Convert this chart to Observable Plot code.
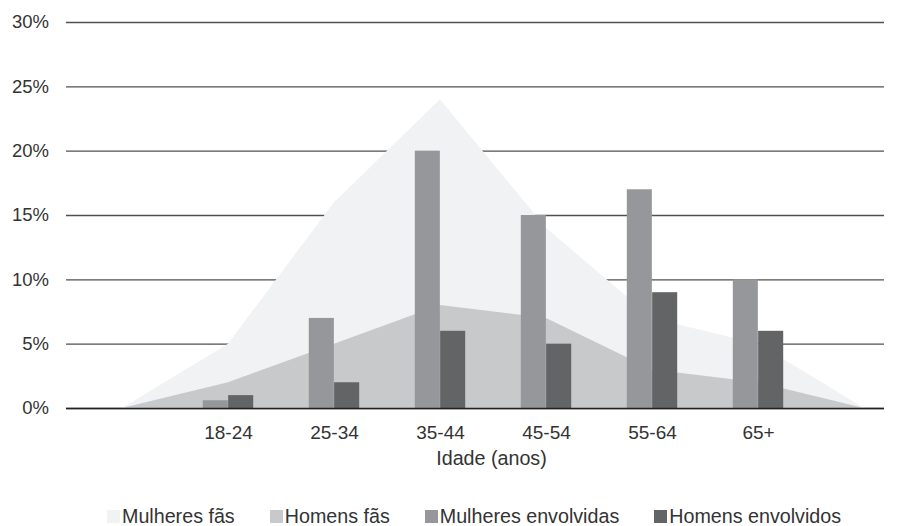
<!DOCTYPE html>
<html>
<head>
<meta charset="utf-8">
<script src="https://cdn.jsdelivr.net/npm/d3@7"></script>
<script src="https://cdn.jsdelivr.net/npm/@observablehq/plot@0.6"></script>
<style>
  html, body { margin: 0; padding: 0; background: #fff; }
  body { width: 907px; height: 526px; overflow: hidden; font-family: "Liberation Sans", Arial, sans-serif; }
  #legend { display: flex; margin-left: 107px; gap: 35px; height: 18px; align-items: center; padding-top: 15px; font-size: 19.7px; line-height: 18px; color: #333; }
  #legend .item { display: flex; align-items: center; }
  #legend .sw { width: 13px; height: 13px; margin-right: 2px; }
</style>
</head>
<body>
<div id="chart"></div>
<div id="legend"></div>
<script>
// Categories
const ages = ["18-24", "25-34", "35-44", "45-54", "55-64", "65+"];
// Area series use two empty slots around the age groups
const slots = ["", ...ages, " "];
// Series values (%)
const mulheresFas = [0, 5, 16, 24, 14, 7, 5, 0];
const homensFas = [0, 2, 5, 8, 7, 3, 2, 0];
const mulheresEnvolvidas = [0.6, 7, 20, 15, 17, 10];
const homensEnvolvidos = [1, 2, 6, 5, 9, 6];
// Tick values (%)
const yTicks = [0, 5, 10, 15, 20, 25, 30];
// Legend
const seriesNames = ["Mulheres fãs", "Homens fãs", "Mulheres envolvidas", "Homens envolvidos"];
const seriesColors = ["#f1f2f3", "#c8c9cb", "#96979a", "#636466"];

const chart = Plot.plot({
  width: 907,
  height: 492,
  marginLeft: 66,
  marginRight: 23,
  marginTop: 22,
  marginBottom: 84,
  style: { fontFamily: "Liberation Sans, Arial, sans-serif", fontSize: "19px", color: "#333", background: "white" },
  x: { type: "band", domain: slots, range: [67.35, 917.75], padding: 0 },
  y: { domain: [0, 0.30] },
  marks: [
    Plot.ruleY(yTicks.map(v => v / 100), { stroke: "#505050", strokeWidth: 1.3 }),
    Plot.areaY(slots, { x: d => d, y: (d, i) => mulheresFas[i] / 100, fill: seriesColors[0] }),
    Plot.areaY(slots, { x: d => d, y: (d, i) => homensFas[i] / 100, fill: seriesColors[1] }),
    Plot.barY(ages, { x: d => d, y: (d, i) => mulheresEnvolvidas[i] / 100, fill: seriesColors[2], insetLeft: 27.8, insetRight: 53.15 }),
    Plot.barY(ages, { x: d => d, y: (d, i) => homensEnvolvidos[i] / 100, fill: seriesColors[3], insetLeft: 53.15, insetRight: 27.8 }),
    Plot.ruleY([0], { stroke: "#222", strokeWidth: 1.3 }),
    Plot.axisY(yTicks.map(v => v / 100), { tickSize: 0, tickPadding: 17.5, tickFormat: d => Math.round(d * 100) + "%", fontSize: 18.5, fill: "#333", label: null }),
    Plot.axisX(ages, { tickSize: 0, tickPadding: 17, fontSize: 19, fill: "#333", label: null }),
    Plot.text(["Idade (anos)"], { frameAnchor: "bottom", dx: 16, dy: 56, fontSize: 19.7, fill: "#333" })
  ]
});
document.getElementById("chart").appendChild(chart);

const legend = d3.select("#legend");
seriesNames.forEach((name, i) => {
  const item = legend.append("div").attr("class", "item");
  item.append("div").attr("class", "sw").style("background", seriesColors[i]);
  item.append("span").text(name);
});
</script>
</body>
</html>
